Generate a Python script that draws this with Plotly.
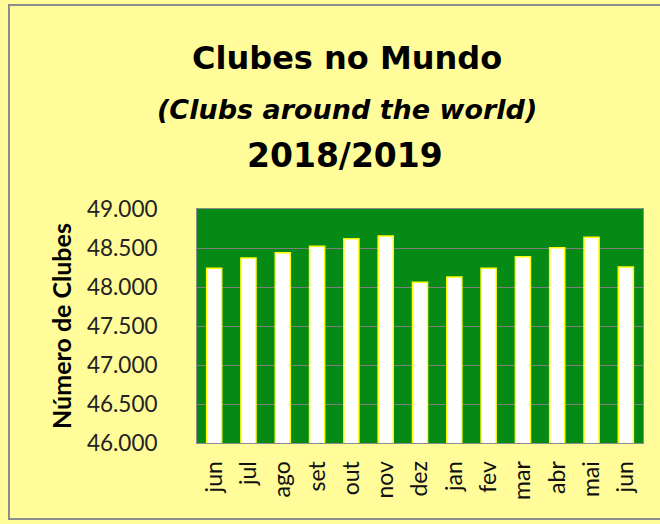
import plotly.graph_objects as go

months = ["jun", "jul", "ago", "set", "out", "nov", "dez", "jan", "fev", "mar", "abr", "mai", "jun"]
clubs = [48240, 48372, 48440, 48522, 48619, 48654, 48060, 48128, 48240, 48389, 48504, 48637, 48256]
y_ticks = [46000, 46500, 47000, 47500, 48000, 48500, 49000]

x_idx = list(range(len(months)))

FONT = "Lato"
TFONT = "DejaVu Sans"
fig = go.Figure()
fig.add_trace(go.Bar(
    x=x_idx, y=clubs,
    marker=dict(color="#FFFFFF", line=dict(color="#FFFF00", width=1.5)),
    width=0.44,
))

W, H = 660, 524
L, R, T, B = 197, 17, 209, 81

fig.update_layout(
    width=W, height=H,
    margin=dict(l=L, r=R, t=T, b=B),
    paper_bgcolor="#FFFC99",
    plot_bgcolor="#058A16",
    separators=",.",
    showlegend=False,
    font=dict(family=FONT, color="#111111"),
    xaxis=dict(
        tickmode="array", tickvals=x_idx, ticktext=months,
        tickangle=-90, range=[-0.5, len(months) - 0.5],
        tickfont=dict(size=23, family=FONT, color="#111111"),
        showgrid=False, zeroline=False,
        showline=True, linecolor="#8C8C8C", linewidth=1, mirror=True,
        ticks="", ticklabelstandoff=8,
    ),
    yaxis=dict(
        range=[46000, 49000], tickvals=y_ticks, tickformat=",.0f",
        tickfont=dict(size=22.5, family=FONT, color="#222222"),
        showgrid=True, gridcolor="#7F7F7F", gridwidth=1, zeroline=False,
        showline=True, linecolor="#8C8C8C", linewidth=1, mirror=True,
        ticks="", ticklabelstandoff=34,
        title=dict(text="<b>Número de Clubes</b>", font=dict(size=25, family=FONT, color="#000000"), standoff=8),
    ),
    annotations=[
        dict(text="<b>Clubes no Mundo</b>", x=347, y=H - 58, showarrow=False,
             font=dict(size=32, family=TFONT, color="#000")),
        dict(text="<b><i>(Clubs around the world)</i></b>", x=347, y=H - 110, showarrow=False,
             font=dict(size=27, family=TFONT, color="#000")),
        dict(text="<b>2018/2019</b>", x=345, y=H - 156, showarrow=False,
             font=dict(size=33, family=TFONT, color="#000")),
    ],
)

# convert pixel positions of annotations to paper coordinates
pw, ph = W - L - R, H - T - B
for a in fig.layout.annotations:
    px, py = a.x, a.y
    a.xref = "paper"; a.yref = "paper"
    a.x = (px - L) / pw
    a.y = (py - B) / ph
    a.xanchor = "center"; a.yanchor = "middle"

# outer chart border
fig.add_shape(type="rect", xref="paper", yref="paper",
              x0=(9 - L) / pw, x1=(664 - L) / pw,
              y0=(H - 519 - B) / ph, y1=(H - 5 - B) / ph,
              line=dict(color="#8C8C8C", width=2), fillcolor="rgba(0,0,0,0)", layer="below")

fig.write_html("out.html", config={"displayModeBar": False},
               post_script="document.body.style.margin='0';document.body.style.overflow='hidden';")
